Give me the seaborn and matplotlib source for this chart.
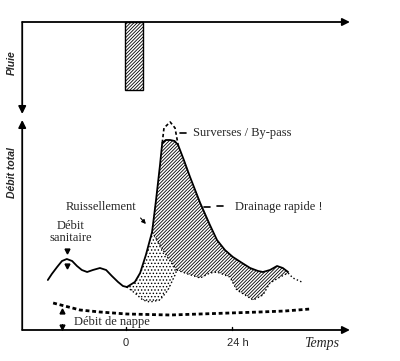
import numpy as np
import seaborn as sns
import matplotlib.pyplot as plt

# hours after start of rain / flow in arbitrary units
rain_t = [1.8]
rain_h = [6.8]

sanit_t = [-17.7, -16.8, -15.6, -14.5, -13.4, -12.2, -11.1, -10.0, -8.8, -7.5,
           -5.9, -4.5, -3.2, -1.8, -0.7, 0.2]
sanit_q = [5.0, 5.6, 6.3, 6.9, 7.1, 6.9, 6.4, 6.0, 5.8, 6.0,
           6.2, 6.0, 5.4, 4.8, 4.4, 4.3]

total_t = [0.2, 2.0, 3.2, 4.5, 5.9, 6.8, 7.7, 8.2, 9.0, 10.0, 11.0, 11.8,
           13.1, 14.5, 16.8, 19.0, 20.6, 22.4, 24.2, 26.3, 28.1, 29.9, 31.0,
           32.6, 34.2, 35.5, 36.7]
total_q = [4.3, 4.8, 5.7, 7.5, 9.8, 13.0, 16.5, 18.7, 19.0, 19.0, 18.9, 18.5,
           17.0, 15.3, 12.7, 10.5, 9.0, 8.0, 7.3, 6.7, 6.2, 5.9, 5.8,
           6.0, 6.4, 6.2, 5.8]

overflow_t = [8.2, 8.6, 10.0, 11.1, 11.8]
overflow_q = [18.7, 20.2, 20.8, 20.2, 18.5]

edge_t = [5.9, 7.7, 9.5, 11.5]
edge_q = [9.8, 8.5, 7.2, 6.0]

base_t = [11.5, 14.0, 16.8, 19.0, 20.6, 23.5, 25.1, 28.8, 31.0, 32.6, 34.9, 36.7, 37.8, 39.8]
base_q = [6.0, 5.6, 5.2, 5.7, 5.8, 5.3, 4.0, 3.0, 3.5, 4.7, 5.3, 5.7, 5.2, 4.8]

runlow_t = [0.2, 2.0, 3.8, 5.4, 7.7, 9.5, 11.1, 11.5]
runlow_q = [4.3, 3.7, 3.0, 2.8, 3.0, 4.0, 5.5, 6.0]

nappe_t = [-16.5, -10.4, -5.9, 0.2, 10.0, 16.8, 23.5, 30.3, 36.0, 41.7]
nappe_q = [2.7, 2.0, 1.8, 1.6, 1.5, 1.6, 1.7, 1.8, 1.9, 2.1]

tick_pos = [0, 24]
tick_lab = ['0', '24 h']

sns.set_style('white')
plt.rcParams['font.family'] = ['Liberation Serif', 'DejaVu Serif']
plt.rcParams['hatch.linewidth'] = 0.6

fig = plt.figure(figsize=(4.0, 3.61), dpi=100)
ax_r = fig.add_axes([0, 241 / 361, 1, 120 / 361])
ax = fig.add_axes([0, 0, 1, 241 / 361])
for a in (ax_r, ax):
    a.set_xlim(-28.53, 62.04)
    a.axis('off')
    a.patch.set_alpha(0)
ax_r.set_ylim(9.8, -2.2)
ax.set_ylim(-3.1, 21.0)

x0, x1 = -23.5, 50.7
arrow = dict(arrowstyle='-|>', lw=1.3, color='k', mutation_scale=11, shrinkA=0, shrinkB=0)

# rain panel
ax_r.annotate('', xy=(x1, 0), xytext=(x0, 0), arrowprops=arrow)
ax_r.annotate('', xy=(x0, 9.2), xytext=(x0, 0), arrowprops=arrow)
ax_r.bar(rain_t, rain_h, width=4.1, bottom=0, fill=False, hatch='//////////',
         edgecolor='k', lw=1.0)
ax_r.text(-25.8, 4.1, 'Pluie', rotation=90, ha='center', va='center',
          family='Liberation Sans', style='italic', fontweight='bold', fontsize=7.5)

# flow panel axes
ax.annotate('', xy=(x1, 0), xytext=(x0, 0), arrowprops=arrow)
ax.annotate('', xy=(x0, 21.0), xytext=(x0, 0), arrowprops=arrow)
ax.text(-25.8, 15.7, 'Débit total', rotation=90, ha='center', va='center',
        family='Liberation Sans', style='italic', fontweight='bold', fontsize=7.5)
for p in tick_pos:
    ax.plot([p, p], [0, 0.35], color='k', lw=1.0)
ax.text(tick_pos[0], -1.3, tick_lab[0], ha='center', va='center',
        family='Liberation Sans', fontsize=8)
ax.text(tick_pos[1] - 1.1, -1.3, tick_lab[1], ha='left', va='center',
        family='Liberation Sans', fontsize=8)
ax.text(44.4, -1.3, 'Temps', ha='center', va='center', style='italic', fontsize=10)

# hatched fast drainage area
i0 = total_t.index(5.9)
hx = total_t[i0:] + base_t[::-1][2:] + edge_t[::-1]
hy = total_q[i0:] + base_q[::-1][2:] + edge_q[::-1]
ax.fill(hx, hy, fill=False, hatch='//////////', edgecolor='k', lw=0)

# dotted runoff area
dx = total_t[:i0 + 1] + edge_t + runlow_t[::-1]
dy = total_q[:i0 + 1] + edge_q + runlow_q[::-1]
ax.fill(dx, dy, fill=False, hatch='.....', edgecolor='k', lw=0)

# curves
sns.lineplot(x=sanit_t, y=sanit_q, sort=False, estimator=None, color='k', lw=1.3, ax=ax)
sns.lineplot(x=total_t, y=total_q, sort=False, estimator=None, color='k', lw=1.3, ax=ax)
ax.plot(overflow_t, overflow_q, color='k', lw=1.2, ls=(0, (2, 1.5)))
ax.plot(edge_t, edge_q, color='k', lw=1.0, ls=':')
ax.plot(base_t, base_q, color='k', lw=1.0, ls=':')
ax.plot(runlow_t, runlow_q, color='k', lw=1.0, ls=':')
ax.plot(nappe_t, nappe_q, color='k', lw=2.0, ls=(0, (1.4, 1.0)))

# annotations
ax.text(-12.5, 9.8, 'Débit\nsanitaire', ha='center', va='center', fontsize=9, linespacing=0.95)
ax.plot(-13.4, 7.9, marker='v', color='k', ms=3.5)
ax.plot(-13.4, 6.4, marker='v', color='k', ms=3.5)
ax.text(-5.6, 12.3, 'Ruissellement', ha='center', va='center', fontsize=9)
ax.annotate('', xy=(4.5, 10.6), xytext=(3.3, 11.2),
            arrowprops=dict(arrowstyle='-|>', lw=0.8, color='k', mutation_scale=6,
                            shrinkA=0, shrinkB=0))
ax.text(-3.2, 0.8, 'Débit de nappe', ha='center', va='center', fontsize=9)
ax.plot(-14.5, 1.9, marker='^', color='k', ms=3.5)
ax.plot(-14.5, 0.3, marker='v', color='k', ms=3.5)
ax.plot([-14.5, -14.5], [0, 0.6], color='k', lw=0.8)
ax.text(15.2, 19.7, 'Surverses / By-pass', ha='left', va='center', fontsize=9)
ax.plot([12.2, 13.6], [19.7, 19.7], color='k', lw=1.2)
ax.text(24.7, 12.3, 'Drainage rapide !', ha='left', va='center', fontsize=9)
ax.plot([17.7, 19.0], [12.3, 12.3], color='k', lw=1.2)
ax.plot([20.6, 22.0], [12.4, 12.4], color='k', lw=1.2)

fig.savefig('out.png', dpi=100)
